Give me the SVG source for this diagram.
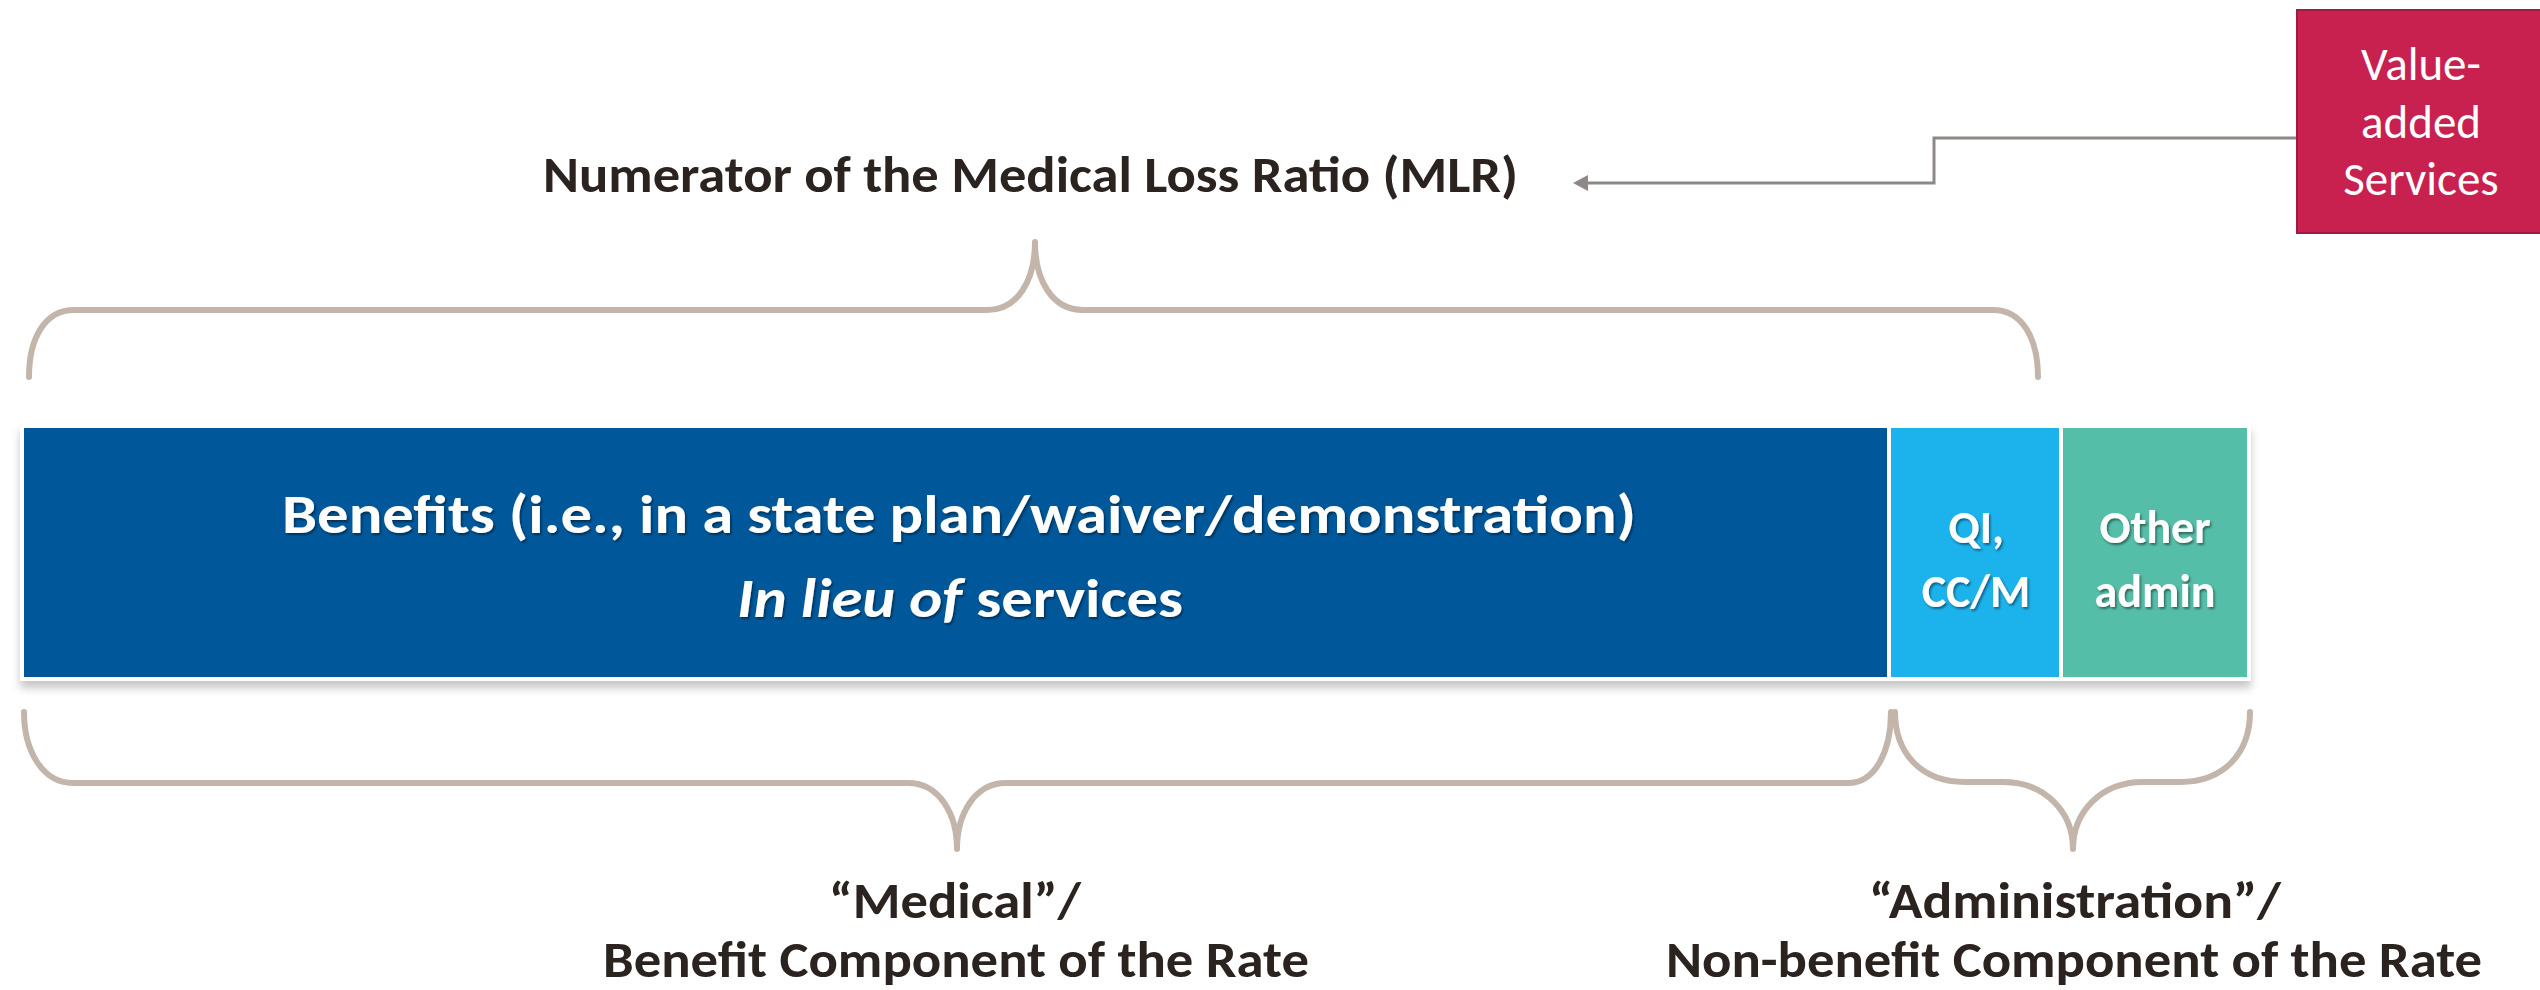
<svg xmlns="http://www.w3.org/2000/svg" width="2540" height="990" viewBox="0 0 2540 990">
<defs>
<style>
.t{font-family:Carlito,Lato,"Open Sans","Liberation Sans",sans-serif;}
.dark{fill:#2b2320;font-weight:bold;}
.wb{fill:#ffffff;font-weight:bold;}
.wr{fill:#ffffff;font-weight:normal;}
.brace{fill:none;stroke:#c3b5aa;stroke-width:6;stroke-linecap:round;stroke-linejoin:round;}
.seg{stroke:#ffffff;stroke-width:4;}
.conn{fill:none;stroke:#8e8986;stroke-width:3;}
</style>
<filter id="sh" x="-5%" y="-10%" width="110%" height="130%">
<feDropShadow dx="0" dy="7" stdDeviation="4" flood-color="#000000" flood-opacity="0.22"/>
</filter>
<filter id="tsh" x="-5%" y="-20%" width="110%" height="150%">
<feDropShadow dx="1.5" dy="2" stdDeviation="1.2" flood-color="#000000" flood-opacity="0.45"/>
</filter>
<marker id="arr" markerUnits="userSpaceOnUse" markerWidth="16" markerHeight="16" viewBox="0 0 16 16" refX="0" refY="8" orient="auto">
<path d="M0,0 L15,8 L0,16 z" fill="#8e8986"/>
</marker>
</defs>
<rect width="2540" height="990" fill="#ffffff"/>

<g id="connectors">
<path class="conn" d="M2297,138 H1934 V183 H1588" marker-end="url(#arr)"/>
</g>

<g id="title">
<text class="t dark" x="543" y="192" font-size="51" textLength="975" lengthAdjust="spacingAndGlyphs">Numerator of the Medical Loss Ratio (MLR)</text>
</g>

<g id="value-added">
<rect x="2297" y="10" width="250" height="223" fill="#c8204f" stroke="#a11a41" stroke-width="2"/>
<text class="t wr" font-size="47" text-anchor="middle"><tspan x="2421" y="80">Value-</tspan><tspan x="2421" y="138">added</tspan><tspan x="2421" y="195">Services</tspan></text>
</g>

<g id="brace-top">
<path class="brace" d="M29,377 C29,338 45,310 74,310 L987,310 C1018,310 1035,280 1035,242 C1035,280 1052,310 1083,310 L1993,310 C2022,310 2038,338 2038,377"/>
</g>

<g id="bar" filter="url(#sh)">
<rect id="benefits-box" class="seg" x="22" y="426" width="1867" height="253" fill="#03599b"/>
<rect id="qi-box" class="seg" x="1889" y="426" width="172" height="253" fill="#1db2ec"/>
<rect id="admin-box" class="seg" x="2061" y="426" width="188" height="253" fill="#55bea8"/>
</g>

<g id="benefits" filter="url(#tsh)">
<text class="t wb" x="282" y="533" font-size="55" textLength="1354" lengthAdjust="spacingAndGlyphs">Benefits (i.e., in a state plan/waiver/demonstration)</text>
<text class="t wb" x="737" y="617" font-size="55" textLength="446" lengthAdjust="spacingAndGlyphs"><tspan font-style="italic">In lieu of</tspan> services</text>
</g>

<g id="qi" filter="url(#tsh)">
<text class="t wb" font-size="46" text-anchor="middle"><tspan x="1976" y="543">QI,</tspan><tspan x="1976" y="607">CC/M</tspan></text>
</g>

<g id="other-admin" filter="url(#tsh)">
<text class="t wb" font-size="46" text-anchor="middle"><tspan x="2155" y="543">Other</tspan><tspan x="2155" y="607">admin</tspan></text>
</g>

<g id="brace-medical">
<path class="brace" d="M24,712 C24,750 42,783 73,783 L908,783 C940,783 957,815 957,849 C957,815 974,783 1006,783 L1848,783 C1876,783 1891,750 1891,712"/>
</g>

<g id="brace-admin">
<path class="brace" d="M1895,712 C1895,752 1920,782 1965,782 L2003,782 C2045,782 2073,812 2073,849 C2073,812 2101,782 2143,782 L2180,782 C2225,782 2250,752 2250,712"/>
</g>

<g id="label-medical">
<text class="t dark" x="829" y="918" font-size="51" textLength="252" lengthAdjust="spacingAndGlyphs">“Medical”/</text>
<text class="t dark" x="603" y="977" font-size="51" textLength="706" lengthAdjust="spacingAndGlyphs">Benefit Component of the Rate</text>
</g>

<g id="label-admin">
<text class="t dark" x="1869" y="918" font-size="51" textLength="412" lengthAdjust="spacingAndGlyphs">“Administration”/</text>
<text class="t dark" x="1666" y="977" font-size="51" textLength="816" lengthAdjust="spacingAndGlyphs">Non-benefit Component of the Rate</text>
</g>
</svg>
